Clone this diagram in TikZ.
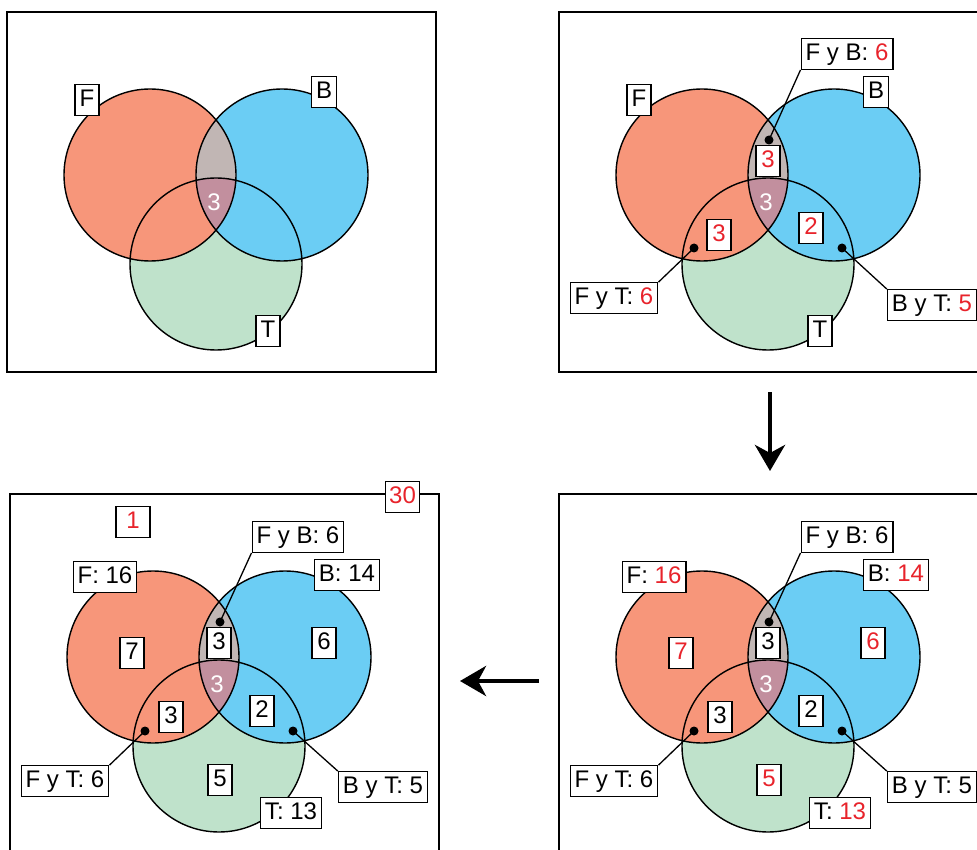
\documentclass[tikz,border=0pt]{standalone}
\usepackage{fontspec}
\setmainfont{Liberation Sans}
\usetikzlibrary{positioning,arrows.meta}
\definecolor{fcol}{HTML}{F7967A}
\definecolor{bcol}{HTML}{6BCDF4}
\definecolor{tcol}{HTML}{BFE2CB}
\definecolor{fbcol}{HTML}{C1B6B4}
\definecolor{fbtcol}{HTML}{C28F9E}
\definecolor{figred}{HTML}{E8232B}
\tikzset{
  lab/.style={draw,fill=white,line width=1.3pt,font=\fontsize{24}{28}\selectfont,
              text height=17pt,text depth=4.5pt,inner xsep=4.5pt,inner ysep=4.5pt,
              minimum width=24pt},
  redlab/.style={lab,text=figred},
  tri/.style={text=white,font=\fontsize{24}{28}\selectfont,inner sep=0pt},
  dot/.style={circle,fill=black,inner sep=0pt,minimum size=9pt},
  ring/.style={line width=1.4pt},
  frame/.style={line width=2.8pt},
  lnk/.style={line width=1.3pt},
  bigarrow/.style={-{Stealth[length=26pt,width=30pt,inset=8pt]},line width=4.5pt},
}

\begin{document}
\begin{tikzpicture}[x=1pt,y=-1pt]
\useasboundingbox (0,0) rectangle (977,850);
\clip (0,0) rectangle (977,850);

% the four diagrams
\foreach \px/\py/\k in {0/0/1,552/0/2,3/482/3,552/482/4}{
  \begin{scope}[shift={(\px,\py)}]
    \fill[tcol] (216,264) circle (86pt);
    \fill[fcol] (150,175) circle (86pt);
    \fill[bcol] (282,175) circle (86pt);
    \begin{scope}
      \clip (150,175) circle (86pt);
      \fill[fbcol] (282,175) circle (86pt);
      \clip (282,175) circle (86pt);
      \fill[fbtcol] (216,264) circle (86pt);
    \end{scope}
    \draw[ring] (150,175) circle (86pt) (282,175) circle (86pt)
                (216,264) circle (86pt);
    \draw[frame] (7,12) rectangle (436,372);
    \node[tri] (w\k) at (214,202) {3};
  \end{scope}
}

% step 1
\node[lab] (f1) at (87,100) {F};
\node[lab] (b1) at (324,92) {B};
\node[lab] (t1) at (268,331) {T};

% step 2
\begin{scope}[shift={(552,0)}]
  \node[lab] (f2) at (87,100) {F};
  \node[lab] (b2) at (324,92) {B};
  \node[lab] (t2) at (268,331) {T};
  \node[redlab] (fb2) at (216,161) {3};
  \node[redlab] (ft2) at (167,235) {3};
  \node[redlab] (bt2) at (259,228) {2};
  \node[dot] (dfb2) at (217,140) {};
  \node[dot] (dft2) at (142,248) {};
  \node[dot] (dbt2) at (290,248) {};
  \node[lab] (cfb2) at (295,54) {F y B: \textcolor{figred}{6}};
  \node[lab] (cft2) at (62,298) {F y T: \textcolor{figred}{6}};
  \node[lab] (cbt2) at (380,305) {B y T: \textcolor{figred}{5}};
  \draw[lnk] (dfb2.center) -- (cfb2.south west);
  \draw[lnk] (dft2.center) -- (cft2.north east);
  \draw[lnk] (dbt2.center) -- (cbt2.north west);
\end{scope}

% step 3
\begin{scope}[shift={(552,482)}]
  \node[lab] (f4) at (102,95) {F: \textcolor{figred}{16}};
  \node[lab] (b4) at (344,93) {B: \textcolor{figred}{14}};
  \node[lab] (t4) at (288,331) {T: \textcolor{figred}{13}};
  \node[redlab] (o4) at (129,171) {7};
  \node[redlab] (s4) at (321,161) {6};
  \node[redlab] (v4) at (217,298) {5};
  \node[lab] (fb4) at (216,161) {3};
  \node[lab] (ft4) at (168,235) {3};
  \node[lab] (bt4) at (259,229) {2};
  \node[dot] (dfb4) at (217,140) {};
  \node[dot] (dft4) at (142,249) {};
  \node[dot] (dbt4) at (290,249) {};
  \node[lab] (cfb4) at (295,55) {F y B: 6};
  \node[lab] (cft4) at (62,299) {F y T: 6};
  \node[lab] (cbt4) at (380,305) {B y T: 5};
  \draw[lnk] (dfb4.center) -- (cfb4.south west);
  \draw[lnk] (dft4.center) -- (cft4.north east);
  \draw[lnk] (dbt4.center) -- (cbt4.north west);
\end{scope}

% step 4
\begin{scope}[shift={(3,482)}]
  \node[lab] (f3) at (102,95) {F: 16};
  \node[lab] (b3) at (344,93) {B: 14};
  \node[lab] (t3) at (288,331) {T: 13};
  \node[lab] (o3) at (129,171) {7};
  \node[lab] (s3) at (321,161) {6};
  \node[lab] (v3) at (217,298) {5};
  \node[lab] (fb3) at (216,161) {3};
  \node[lab] (ft3) at (168,235) {3};
  \node[lab] (bt3) at (259,229) {2};
  \node[dot] (dfb3) at (217,140) {};
  \node[dot] (dft3) at (142,249) {};
  \node[dot] (dbt3) at (290,249) {};
  \node[lab] (cfb3) at (295,55) {F y B: 6};
  \node[lab] (cft3) at (62,299) {F y T: 6};
  \node[lab] (cbt3) at (380,305) {B y T: 5};
  \draw[lnk] (dfb3.center) -- (cfb3.south west);
  \draw[lnk] (dft3.center) -- (cft3.north east);
  \draw[lnk] (dbt3.center) -- (cbt3.north west);
  \node[redlab,minimum width=34pt] (out3) at (130,40) {1};
  \node[redlab,inner xsep=3.5pt] (tot3) at (399.5,15) {30};
\end{scope}

% arrows between the steps
\coordinate (dtop) at (770,392);
\coordinate (dbot) at (770,471);
\draw[bigarrow] (dtop) -- (dbot);
\coordinate (lfrom) at (539,681);
\coordinate (lto) at (460,681);
\draw[bigarrow] (lfrom) -- (lto);

\end{tikzpicture}
\end{document}
